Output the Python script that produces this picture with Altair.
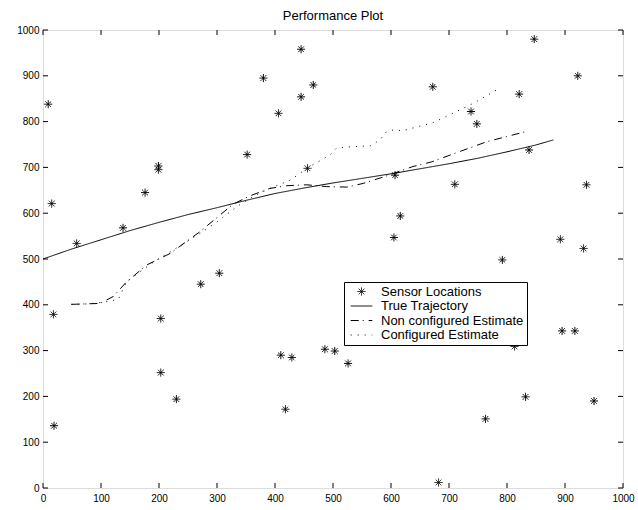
import altair as alt
import pandas as pd

# ---------------- data ----------------
series_names = ["Sensor Locations", "True Trajectory", "Non configured Estimate", "Configured Estimate"]

sensor_x = [9, 15, 18, 19, 58, 138, 176, 199, 199, 203, 203, 230, 272, 304, 352, 380, 406, 410, 418, 429,
            445, 445, 456, 466, 486, 503, 526, 605, 607, 616, 672, 682, 710, 738, 748, 763, 792, 813, 821, 832,
            838, 847, 892, 895, 917, 922, 932, 937, 950]
sensor_y = [838, 621, 379, 136, 534, 568, 645, 703, 695, 370, 252, 194, 445, 469, 728, 895, 818, 290, 172, 285,
            958, 854, 698, 880, 303, 299, 272, 547, 683, 594, 876, 12, 663, 822, 795, 151, 498, 309, 860, 199,
            738, 980, 543, 343, 343, 900, 523, 662, 190]

true_x = [0, 50, 100, 150, 200, 250, 300, 350, 400, 450, 500, 550, 600, 650, 700, 750, 800, 850, 880]
true_y = [500, 522, 542, 562, 580, 597, 612, 628, 643, 655, 666, 676, 686, 697, 708, 720, 734, 749, 760]

nonconf_x = [49, 98, 121, 144, 179, 219, 271, 328, 357, 391, 420, 455, 489, 524, 552, 589, 638, 670, 702, 765, 838]
nonconf_y = [401, 403, 418, 450, 487, 512, 560, 620, 638, 654, 660, 662, 658, 657, 665, 680, 702, 712, 727, 756, 780]

conf_x = [49, 80, 110, 130, 144, 167, 196, 225, 271, 299, 334, 360, 391, 426, 460, 495, 506, 530, 564, 581,
          592, 605, 620, 673, 713, 742, 782]
conf_y = [401, 402, 407, 412, 450, 472, 498, 520, 556, 580, 614, 635, 654, 672, 702, 727, 742, 745, 747, 760,
          778, 782, 780, 798, 822, 840, 869]

tick_values = [0, 100, 200, 300, 400, 500, 600, 700, 800, 900, 1000]

# ---------------- build tables ----------------
sensor_df = pd.DataFrame({"x": sensor_x, "y": sensor_y, "series": series_names[0]})
rows = []
for name, xs, ys in [(series_names[1], true_x, true_y),
                     (series_names[2], nonconf_x, nonconf_y),
                     (series_names[3], conf_x, conf_y)]:
    for i, (a, b) in enumerate(zip(xs, ys)):
        rows.append({"x": a, "y": b, "series": name, "i": i})
line_df = pd.DataFrame(rows)
tick_df = pd.DataFrame({"v": tick_values})

W, H = 580, 458
FONT = "Liberation Sans"
ASTERISK = "M-1,0L1,0M0,-1L0,1M-0.7,-0.7L0.7,0.7M-0.7,0.7L0.7,-0.7"
LINE_SYM = "M-2.7,0L2.7,0"

xscale = alt.Scale(domain=[0, 1000], nice=False, zero=False)
yscale = alt.Scale(domain=[0, 1000], nice=False, zero=False)
xaxis = alt.Axis(values=tick_values, title=None, ticks=False, domain=False, grid=False, format="d",
                 labelPadding=5, labelOverlap=False, labelFlush=False, labelBound=False)
yaxis = alt.Axis(values=tick_values, title=None, ticks=False, domain=False, grid=False, format="d",
                 labelPadding=4, labelOverlap=False, labelFlush=False, labelBound=False)

legend = alt.Legend(title=None, orient="none", legendX=301, legendY=252,
                    strokeColor="black", fillColor="white", padding=3, rowPadding=0.5,
                    labelFont=FONT, labelFontSize=13, labelColor="black",
                    symbolSize=64, symbolStrokeWidth=1, symbolStrokeColor="black",
                    symbolFillColor="transparent", symbolOffset=8, labelOffset=13,
                    cornerRadius=0)

shape_scale = alt.Scale(domain=series_names, range=[ASTERISK, LINE_SYM, LINE_SYM, LINE_SYM])
dash_scale = alt.Scale(domain=series_names, range=[[1, 0], [1, 0], [8, 4, 1, 5], [1, 6]])

X = alt.X("x:Q", scale=xscale, axis=xaxis)
Y = alt.Y("y:Q", scale=yscale, axis=yaxis)

lines = alt.Chart(line_df).mark_line(color="black", strokeWidth=1).encode(
    x=X, y=Y,
    strokeDash=alt.StrokeDash("series:N", scale=dash_scale, legend=legend),
    order="i:Q",
)

points = alt.Chart(sensor_df).mark_point(filled=False, size=64, color="black", strokeWidth=1, opacity=1).encode(
    x=X, y=Y,
    shape=alt.Shape("series:N", scale=shape_scale, legend=legend),
    strokeDash=alt.StrokeDash("series:N", scale=dash_scale, legend=legend),
)

tick_bottom = alt.Chart(tick_df).mark_rule(color="black", strokeWidth=1).encode(
    x=alt.X("v:Q", scale=xscale, axis=xaxis), y=alt.value(H), y2=alt.value(H - 5))
tick_top = alt.Chart(tick_df).mark_rule(color="black", strokeWidth=1).encode(
    x=alt.X("v:Q", scale=xscale, axis=xaxis), y=alt.value(0), y2=alt.value(5))
tick_left = alt.Chart(tick_df).mark_rule(color="black", strokeWidth=1).encode(
    y=alt.Y("v:Q", scale=yscale, axis=yaxis), x=alt.value(0), x2=alt.value(5))
tick_right = alt.Chart(tick_df).mark_rule(color="black", strokeWidth=1).encode(
    y=alt.Y("v:Q", scale=yscale, axis=yaxis), x=alt.value(W), x2=alt.value(W - 5))

chart = alt.layer(tick_bottom, tick_top, tick_left, tick_right, lines, points).properties(
    width=W, height=H,
    title=alt.TitleParams(text="Performance Plot", font=FONT, fontSize=13, fontWeight="normal",
                          color="black", anchor="middle", offset=10, baseline="alphabetic", dy=18),
    autosize=alt.AutoSizeParams(type="none"),
    padding={"left": 43, "top": 30, "right": 15, "bottom": 22},
).configure_view(
    stroke="black", strokeWidth=1.6
).configure_axis(
    labelFont=FONT, labelFontSize=13, labelColor="black"
).configure(background="white")

chart.save("out.html", embed_options={"renderer": "svg", "actions": False})
